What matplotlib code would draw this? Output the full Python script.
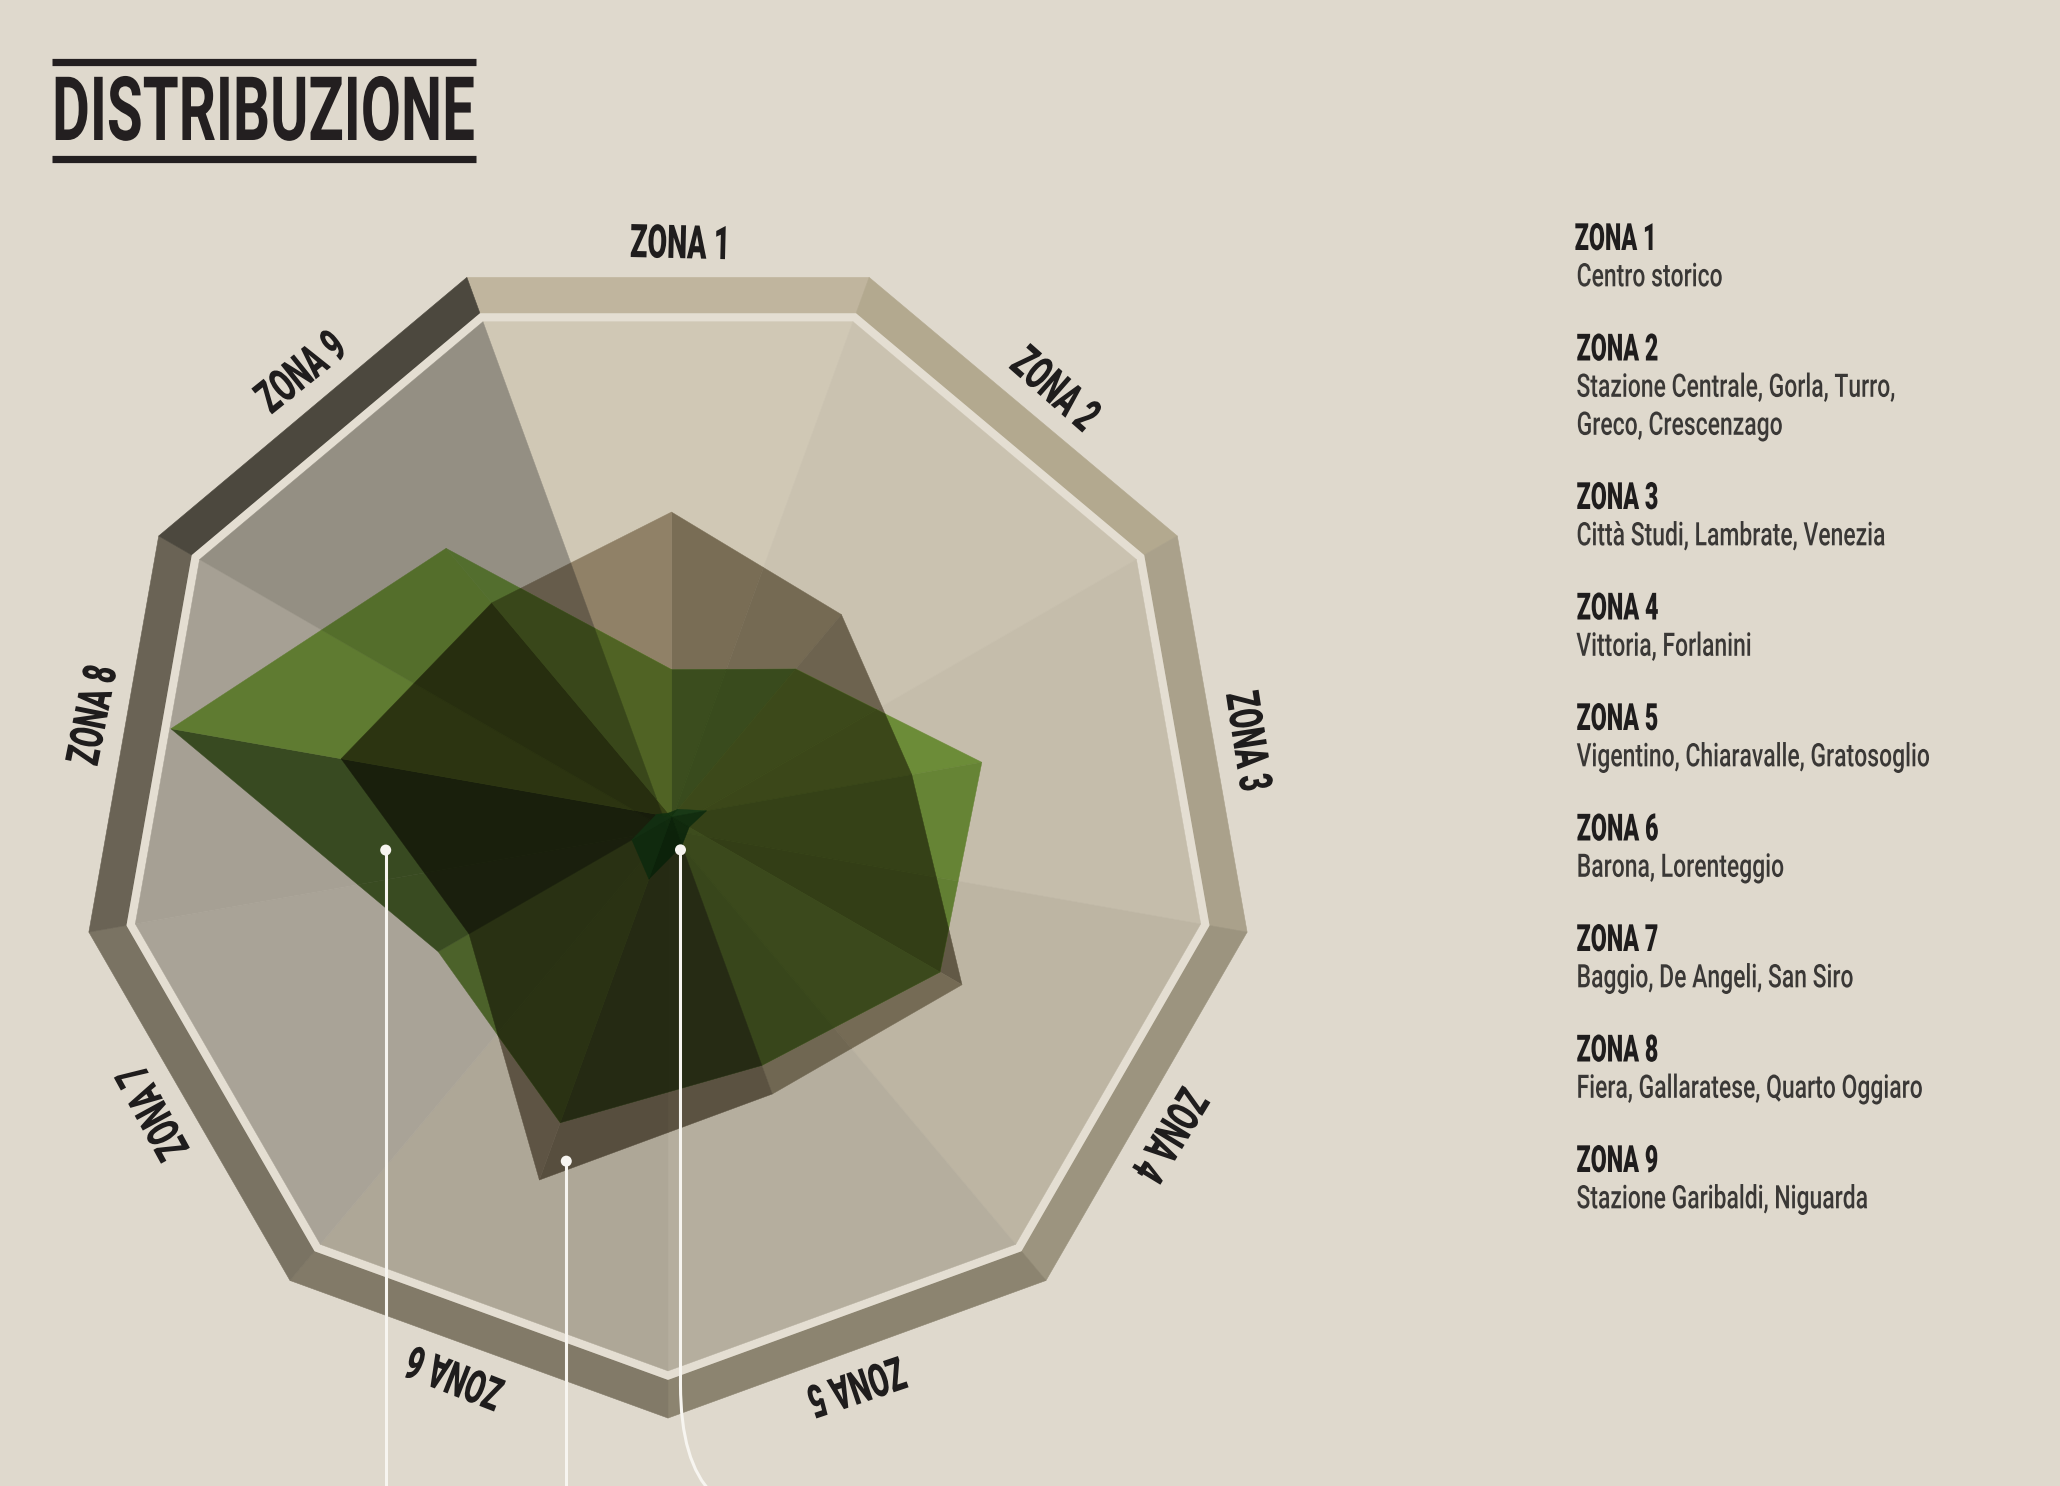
import numpy as np
import matplotlib
matplotlib.use("Agg")
import matplotlib.pyplot as plt
from matplotlib.patches import Polygon, Circle, PathPatch
from matplotlib.path import Path
from matplotlib.patheffects import AbstractPathEffect
from matplotlib.transforms import Affine2D
from matplotlib.colors import to_rgb

# ---- dati ----
zone = ["ZONA 1", "ZONA 2", "ZONA 3", "ZONA 4", "ZONA 5",
        "ZONA 6", "ZONA 7", "ZONA 8", "ZONA 9"]
quartieri = [
    ["Centro storico"],
    ["Stazione Centrale, Gorla, Turro,", "Greco, Crescenzago"],
    ["Città Studi, Lambrate, Venezia"],
    ["Vittoria, Forlanini"],
    ["Vigentino, Chiaravalle, Gratosoglio"],
    ["Barona, Lorenteggio"],
    ["Baggio, De Angeli, San Siro"],
    ["Fiera, Gallaratese, Quarto Oggiaro"],
    ["Stazione Garibaldi, Niguarda"],
]
serie_marrone = [60, 52, 48, 66, 58, 76, 46, 66, 55]
serie_verde = [29, 38, 62, 61, 52, 64, 53, 100, 69]
serie_scura = [1, 2, 7, 4, 6, 13, 9, 3, 1]
titolo = "DISTRIBUZIONE"

# ---- stile ----
PAGE = "#dfd9cd"
LIGHT = "#e4ded2"
INK = "#1f1d1d"
GREY_TXT = "#3a3836"
WHITE = "#f7f5f0"
band_cols = ["#c0b59e", "#b3a98f", "#aaa18b", "#9c947f", "#8c8470",
             "#827a68", "#7a7363", "#6a6355", "#4c483e"]
sector_cols = ["#d0c8b5", "#cac2b0", "#c5bdab", "#bdb5a3", "#b5ae9e",
               "#aea797", "#a9a397", "#a6a094", "#948f83"]
# multiply factors per facet (z1-z2, z2-z3, ..., z9-z1)
brown_f = [(0.58, 0.545, 0.47), (0.54, 0.51, 0.45), (0.52, 0.49, 0.43),
           (0.62, 0.59, 0.52), (0.50, 0.47, 0.41), (0.54, 0.50, 0.45),
           (0.45, 0.42, 0.38), (0.46, 0.42, 0.34), (0.69, 0.645, 0.57)]
green_f = [(0.49, 0.71, 0.35), (0.55, 0.74, 0.33), (0.52, 0.70, 0.31),
           (0.50, 0.68, 0.33), (0.42, 0.53, 0.31), (0.45, 0.60, 0.28),
           (0.34, 0.46, 0.22), (0.57, 0.77, 0.33), (0.56, 0.77, 0.35)]
dark_cols = ["#10300f", "#163816", "#0f2c0f", "#0c260c", "#0a220a",
             "#0e2a0e", "#123012", "#10300f", "#10300f"]

plt.rcParams["font.family"] = ["Roboto", "DejaVu Sans"]

W, H = 2060, 1486
CX, CY = 668, 830          # centro del nonagono
HX, HY = 671.5, 817        # centro dei poligoni
COS20 = np.cos(np.radians(20))
R_OUT = 552.6 / COS20
R_BAND_IN = 516.7 / COS20
R_FILL = 508.3 / COS20
PX = 5.083                 # pixel per unita'
ang_zone = 90 - 40 * np.arange(9)


def pt(x0, y0, r, a):
    a = np.radians(a)
    return np.array([x0 + r * np.cos(a), y0 - r * np.sin(a)])


def area(p):
    p = np.asarray(p, float)
    x, y = p[:, 0], p[:, 1]
    return 0.5 * (np.dot(x, np.roll(y, -1)) - np.dot(y, np.roll(x, -1)))


def orient(p):
    p = np.asarray(p, float)
    return p if area(p) > 0 else p[::-1]


def clip(subj, clipper):
    out = [tuple(v) for v in subj]
    n = len(clipper)
    for i in range(n):
        if len(out) < 3:
            return []
        ax_, ay_ = clipper[i]
        bx, by = clipper[(i + 1) % n]
        inp, out = out, []
        s = inp[-1]
        ss = (bx - ax_) * (s[1] - ay_) - (by - ay_) * (s[0] - ax_)
        for e in inp:
            se = (bx - ax_) * (e[1] - ay_) - (by - ay_) * (e[0] - ax_)
            if se >= 0:
                if ss < 0:
                    t = ss / (ss - se)
                    out.append((s[0] + t * (e[0] - s[0]), s[1] + t * (e[1] - s[1])))
                out.append(e)
            elif ss >= 0:
                t = ss / (ss - se)
                out.append((s[0] + t * (e[0] - s[0]), s[1] + t * (e[1] - s[1])))
            s, ss = e, se
    return out if len(out) >= 3 else []


def facets(values):
    p = [pt(HX, HY, v * PX, a) for v, a in zip(values, ang_zone)]
    return [orient([(HX, HY), p[k], p[(k + 1) % 9]]) for k in range(9)]


class Squeeze(AbstractPathEffect):
    """draws the text path compressed horizontally (condensed look)"""
    def __init__(self, sx, anchor="center"):
        super().__init__()
        self.sx = sx
        self.anchor = anchor

    def draw_path(self, renderer, gc, tpath, affine, rgbFace=None):
        ext = tpath.get_extents()
        if self.anchor == "left":
            c = 0.0
        elif self.anchor == "right":
            c = ext.x1
        else:
            c = 0.5 * (ext.x0 + ext.x1)
        t = Affine2D().translate(-c, 0).scale(self.sx, 1).translate(c, 0) + affine
        renderer.draw_path(gc, tpath, t, rgbFace)


fig = plt.figure(figsize=(W / 100, H / 100), dpi=100)
fig.patch.set_facecolor(PAGE)
ax = fig.add_axes([0, 0, 1, 1])
ax.set_xlim(0, W)
ax.set_ylim(H, 0)
ax.axis("off")

renderer = fig.canvas.get_renderer()


def width_px(s, **kw):
    t = fig.text(0, 0, s, **kw)
    w = t.get_window_extent(renderer).width
    t.remove()
    return w


def fill(p, col, z):
    if len(p) < 3 or abs(area(p)) < 0.3:
        return
    col = tuple(np.clip(col, 0, 1))
    ax.add_patch(Polygon(p, closed=True, fc=col, ec=col, lw=0.3, zorder=z))


# ---- cornice ----
for k in range(9):
    a1, a2 = 110 - 40 * k, 70 - 40 * k
    trap = [pt(CX, CY, R_OUT, a1), pt(CX, CY, R_OUT, a2),
            pt(CX, CY, R_BAND_IN, a2), pt(CX, CY, R_BAND_IN, a1)]
    ax.add_patch(Polygon(trap, closed=True, fc=band_cols[k], ec=band_cols[k],
                         lw=0.4, zorder=1))
ring = [pt(CX, CY, R_BAND_IN, 110 - 40 * k) for k in range(9)]
ax.add_patch(Polygon(ring, closed=True, fc=LIGHT, ec="none", zorder=1))

# ---- settori di fondo ----
sectors = [orient([(CX, CY), pt(CX, CY, R_FILL, 110 - 40 * k),
                   pt(CX, CY, R_FILL, 70 - 40 * k)]) for k in range(9)]
sec_rgb = [np.array(to_rgb(c)) for c in sector_cols]
for s in range(9):
    fill(sectors[s], sec_rgb[s], 2)

fb = facets(serie_marrone)
fg = facets(serie_verde)
fs = facets(serie_scura)
bf = [np.array(f) for f in brown_f]
gf = [np.array(f) for f in green_f]

# serie marrone (multiply sul fondo)
for j in range(9):
    for s in range(9):
        fill(clip(fb[j], sectors[s]), sec_rgb[s] * bf[j], 3)

# serie verde (multiply su fondo e marrone)
for k in range(9):
    for s in range(9):
        p = clip(fg[k], sectors[s])
        if not p:
            continue
        fill(p, sec_rgb[s] * gf[k], 4)
        for j in range(9):
            fill(clip(p, fb[j]), sec_rgb[s] * bf[j] * gf[k], 5)

# serie scura
for m in range(9):
    ax.add_patch(Polygon(fs[m], closed=True, fc=dark_cols[m], ec=dark_cols[m],
                         lw=0.3, alpha=0.92, zorder=6))

# ---- richiami ----
ancore = [(186.6, 56.6), (-107.0, 70.8), (-74.7, 6.7)]
for i, (a, v) in enumerate(ancore):
    x, y = pt(HX, HY, v * PX, a)
    if i < 2:
        ax.plot([x, x], [y, H + 5], color=WHITE, lw=2.2, zorder=7,
                solid_capstyle="butt")
    else:
        path = Path([(x, y), (x, 1385), (x, 1462), (x + 32, 1494)],
                    [Path.MOVETO, Path.LINETO, Path.CURVE3, Path.CURVE3])
        ax.add_patch(PathPatch(path, fc="none", ec=WHITE, lw=2.2, zorder=7))
    ax.add_patch(Circle((x, y), 5.5, fc=WHITE, ec="none", zorder=8))

# ---- testi ----
title_kw = dict(fontsize=64, fontweight="bold", color="#231f20")
zone_kw = dict(fontsize=33.4, fontweight="black", color=INK)
head_kw = dict(fontsize=27, fontweight="black", color=INK)
det_kw = dict(fontsize=23.3, fontweight="medium", color=GREY_TXT)

sx_title = 423 / width_px(titolo, **title_kw)
sx_zone = 100 / width_px(zone[0], **zone_kw)
sx_head = 81.7 / width_px(zone[0], **head_kw)
sx_det = 319 / width_px(quartieri[1][0], **det_kw)

ax.text(52, 140, titolo, ha="left", va="baseline", zorder=9,
        path_effects=[Squeeze(sx_title, "left")], **title_kw)
for yy in (61.5, 158.5):
    ax.plot([52, 476], [yy, yy], color="#231f20", lw=5.2,
            solid_capstyle="butt", zorder=9)

for k, name in enumerate(zone):
    a = ang_zone[k] - 1.3
    x, y = pt(CX, CY, 572, a)
    ax.text(x, y, name, rotation=a - 90, rotation_mode="anchor",
            ha="center", va="baseline", zorder=9,
            path_effects=[Squeeze(sx_zone)], **zone_kw)

# legenda: testo allineato a destra sulla fine della riga compressa
X_LEG = 1577
top = 223.3
for k, name in enumerate(zone):
    xr = X_LEG + sx_head * width_px(name, **head_kw)
    ax.text(xr, top + 26.7, name, ha="right", va="baseline", zorder=9,
            path_effects=[Squeeze(sx_head, "right")], **head_kw)
    for i, line in enumerate(quartieri[k]):
        xr = X_LEG + sx_det * width_px(line, **det_kw)
        ax.text(xr, top + 63 + 38 * i, line, ha="right", va="baseline",
                zorder=9, path_effects=[Squeeze(sx_det, "right")], **det_kw)
    top += 110.5 + 38 * (len(quartieri[k]) - 1)

fig.savefig("out.png", dpi=100, facecolor=PAGE)
